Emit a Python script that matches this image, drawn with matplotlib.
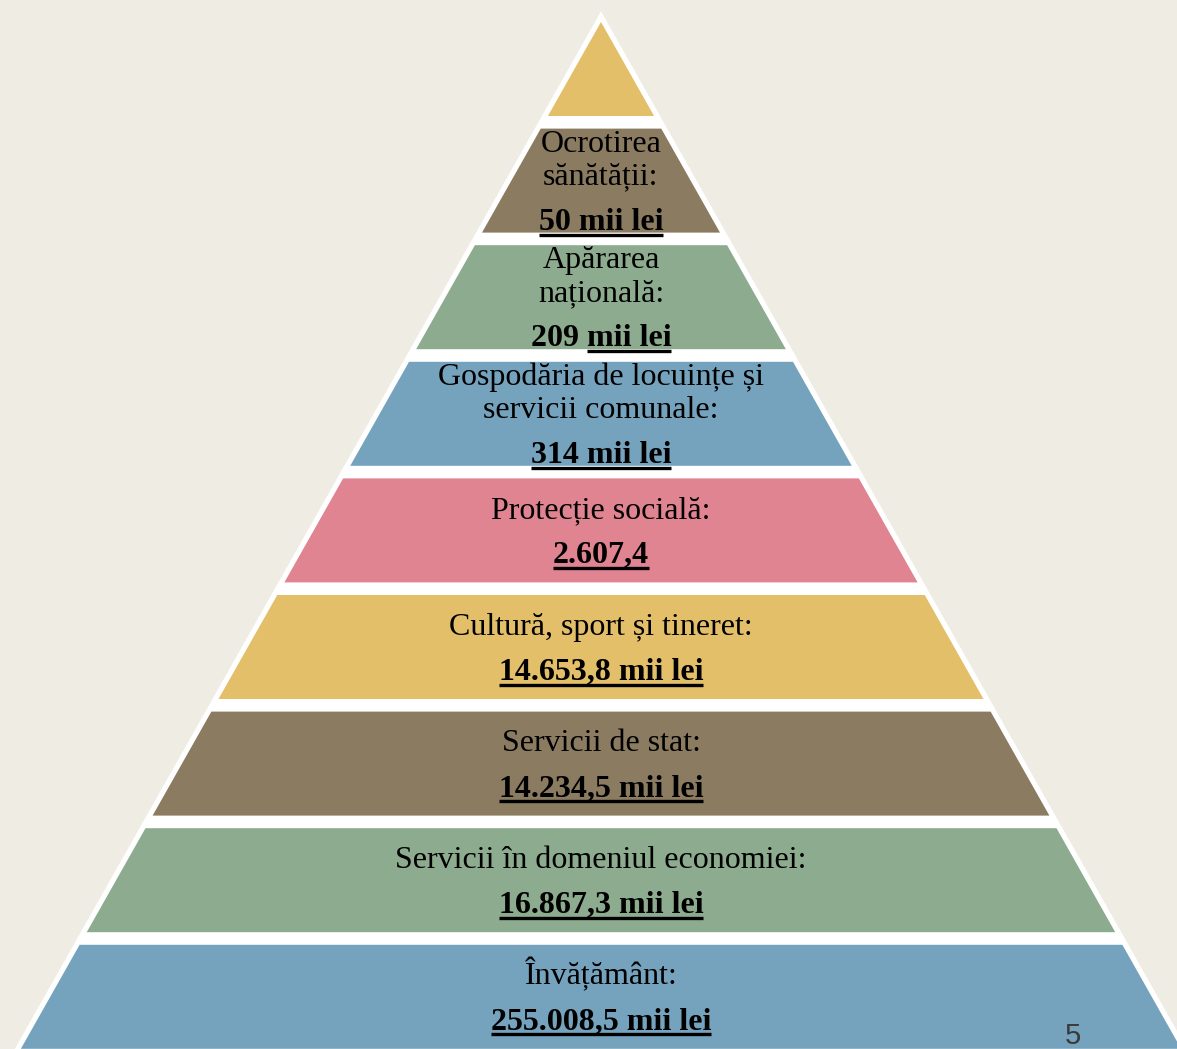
import matplotlib.pyplot as plt
from matplotlib.patches import Polygon

# layers from top (apex) to bottom
labels = ["",
          "Ocrotirea\nsănătății:",
          "Apărarea\nnațională:",
          "Gospodăria de locuințe și\nservicii comunale:",
          "Protecție socială:",
          "Cultură, sport și tineret:",
          "Servicii de stat:",
          "Servicii în domeniul economiei:",
          "Învățământ:"]
amounts = ["", "50", "209", "314", "2.607,4", "14.653,8", "14.234,5", "16.867,3", "255.008,5"]
units = ["", "mii lei", "mii lei", "mii lei", "", "mii lei", "mii lei", "mii lei", "mii lei"]
# only the unit is underlined for the 209 row
underline_amount = [False, True, False, True, True, True, True, True, True]
colors = ["#E4BF6A", "#8A7B61", "#8DAB8E", "#75A2BD", "#E08492",
          "#E4BF6A", "#8A7B61", "#8DAB8E", "#75A2BD"]
page_number = "5"

W, H = 1177, 1049
dpi = 100
fig = plt.figure(figsize=(W / dpi, H / dpi), dpi=dpi)
fig.patch.set_facecolor("#EFECE4")
ax = fig.add_axes([0, 0, 1, 1])
ax.set_xlim(0, W)
ax.set_ylim(H, 0)
ax.axis("off")

cx = 601
apex = 22
slope = 0.565


def hw(y):
    return slope * (y - apex)


# white outline triangle behind the layers
pad = 6
yb = H + 20
ax.add_patch(Polygon([(cx, apex - pad / slope), (cx - hw(yb) - pad, yb), (cx + hw(yb) + pad, yb)],
                     closed=True, facecolor="white", edgecolor="none"))

pitch = 116.6
thick = 104
font = "Liberation Serif"
fs = 23
texts = []

for k in range(len(labels)):
    top = 12 + pitch * k if k > 0 else apex
    bot = 12 + pitch * k + thick if k > 0 else 116
    ax.add_patch(Polygon([(cx - hw(top), top), (cx + hw(top), top),
                          (cx + hw(bot), bot), (cx - hw(bot), bot)],
                         closed=True, facecolor=colors[k], edgecolor="none"))
    if not labels[k]:
        continue
    lines = labels[k].split("\n")
    span = 33 * (len(lines) - 1) + 45
    mid = 12 + pitch * k + 62
    y = mid - span / 2
    for i, ln in enumerate(lines):
        ax.text(cx, y, ln, ha="center", va="baseline", fontsize=fs, family=font, color="black")
        if i < len(lines) - 1:
            y += 33
    y += 45
    val = (amounts[k] + " " + units[k]).strip()
    t = ax.text(cx, y, val, ha="center", va="baseline", fontsize=fs, family=font,
                fontweight="bold", color="black")
    texts.append((t, y, k))

ax.text(1073, 1044, page_number, ha="center", va="baseline", fontsize=21,
        family="Liberation Sans", color="#3a3a3a")

fig.canvas.draw()
r = fig.canvas.get_renderer()
inv = ax.transData.inverted()
for t, y, k in texts:
    bb = t.get_window_extent(renderer=r)
    x0 = inv.transform((bb.x0, 0))[0]
    x1 = inv.transform((bb.x1, 0))[0]
    if not underline_amount[k]:
        tu = ax.text(0, 0, units[k], fontsize=fs, family=font, fontweight="bold")
        wu = tu.get_window_extent(renderer=r).width
        tu.remove()
        x0 = x1 - wu
    ax.plot([x0, x1], [y + 5, y + 5], color="black", lw=2.4, solid_capstyle="butt")

plt.savefig("out.png", dpi=dpi, facecolor=fig.get_facecolor())
